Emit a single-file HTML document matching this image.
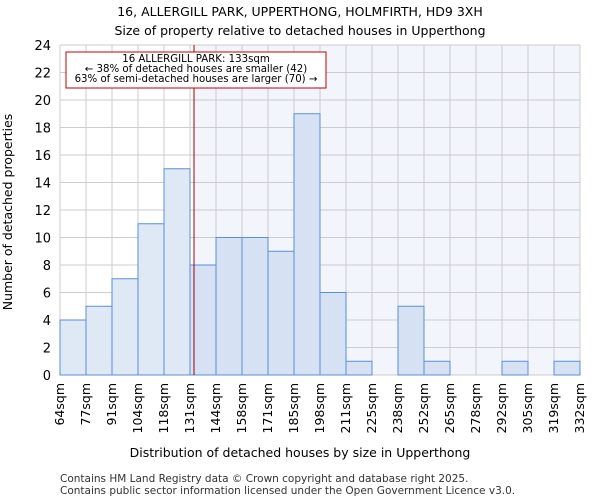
<!DOCTYPE html>
<html><head><meta charset="utf-8"><style>
body{margin:0;background:#fff;font-family:"DejaVu Sans","Liberation Sans",sans-serif;}
svg text{font-family:"DejaVu Sans","Liberation Sans",sans-serif;}
</style></head><body>
<svg id="c" width="600" height="500"></svg>
<script>
const binEdges=[64,77,91,104,118,131,144,158,171,185,198,211,225,238,252,265,278,292,305,319,332];
const counts=[4,5,7,11,15,8,10,10,9,19,6,1,0,5,1,0,0,1,0,1];
const yTicks=[0,2,4,6,8,10,12,14,16,18,20,22,24];
const subjectSize=133;
const L=60,R=580,T=45,B=375,yMax=24;
const nb=counts.length;
const xi=i=>L+i*(R-L)/nb;
const xv=v=>{let i=0;while(i<nb-1&&v>binEdges[i+1])i++;return xi(i)+(v-binEdges[i])/(binEdges[i+1]-binEdges[i])*(R-L)/nb;};
const y=v=>B-v*(B-T)/yMax;
const s=document.getElementById('c');const NS='http://www.w3.org/2000/svg';
function mk(t,a,txt){const e=document.createElementNS(NS,t);for(const k in a)e.setAttribute(k,a[k]);if(txt!==undefined)e.textContent=txt;s.appendChild(e);return e;}
let e;
e=mk('text',{x:300,y:16,'text-anchor':'middle','font-size':12.5},'16, ALLERGILL PARK, UPPERTHONG, HOLMFIRTH, HD9 3XH');


e=mk('text',{x:300,y:35,'text-anchor':'middle','font-size':12.5},'Size of property relative to detached houses in Upperthong');


const sx=xv(subjectSize);
e=mk('rect',{x:sx,y:T,width:R-sx,height:B-T,fill:'#f2f5fc'});


yTicks.forEach(t=>{e=mk('line',{x1:L,x2:R,y1:y(t),y2:y(t),stroke:'#cccccc','stroke-width':1});


e=mk('text',{x:L-9,y:y(t)+5,'text-anchor':'end','font-size':13},t);

});
binEdges.forEach((b,i)=>{e=mk('line',{x1:xi(i),x2:xi(i),y1:T,y2:B,stroke:'#cccccc','stroke-width':1});


const tx=xi(i)+4;e=mk('text',{x:tx,y:B+8,'text-anchor':'end','font-size':12.5,transform:`rotate(-90 ${tx} ${B+8})`},b+'sqm');

});
counts.forEach((c,i)=>{if(c<=0)return;e=mk('rect',{x:xi(i),y:y(c),width:(R-L)/nb,height:B-y(c),fill:binEdges[i+1]<=subjectSize?'#dfe8f5':'#d6e2f3',stroke:'#5b8fd5','stroke-width':1});

});
e=mk('line',{x1:sx,x2:sx,y1:T,y2:B,stroke:'#a00000','stroke-width':1});


e=mk('rect',{x:66,y:52,width:260,height:36,fill:'#fff',stroke:'#c00000','stroke-width':1});


['16 ALLERGILL PARK: 133sqm','← 38% of detached houses are smaller (42)','63% of semi-detached houses are larger (70) →'].forEach((t,i)=>{e=mk('text',{x:196,y:62+i*10,'text-anchor':'middle','font-size':10.2},t);

});
e=mk('text',{x:300,y:457,'text-anchor':'middle','font-size':12.5},'Distribution of detached houses by size in Upperthong');


e=mk('text',{x:12,y:212,'text-anchor':'middle','font-size':12.5,transform:'rotate(-90 12 212)'},'Number of detached properties');


e=mk('text',{x:60,y:482,'font-size':10.5,fill:'#333'},'Contains HM Land Registry data © Crown copyright and database right 2025.');


e=mk('text',{x:60,y:494,'font-size':10.5,fill:'#333'},'Contains public sector information licensed under the Open Government Licence v3.0.');


</script>
</body></html>
